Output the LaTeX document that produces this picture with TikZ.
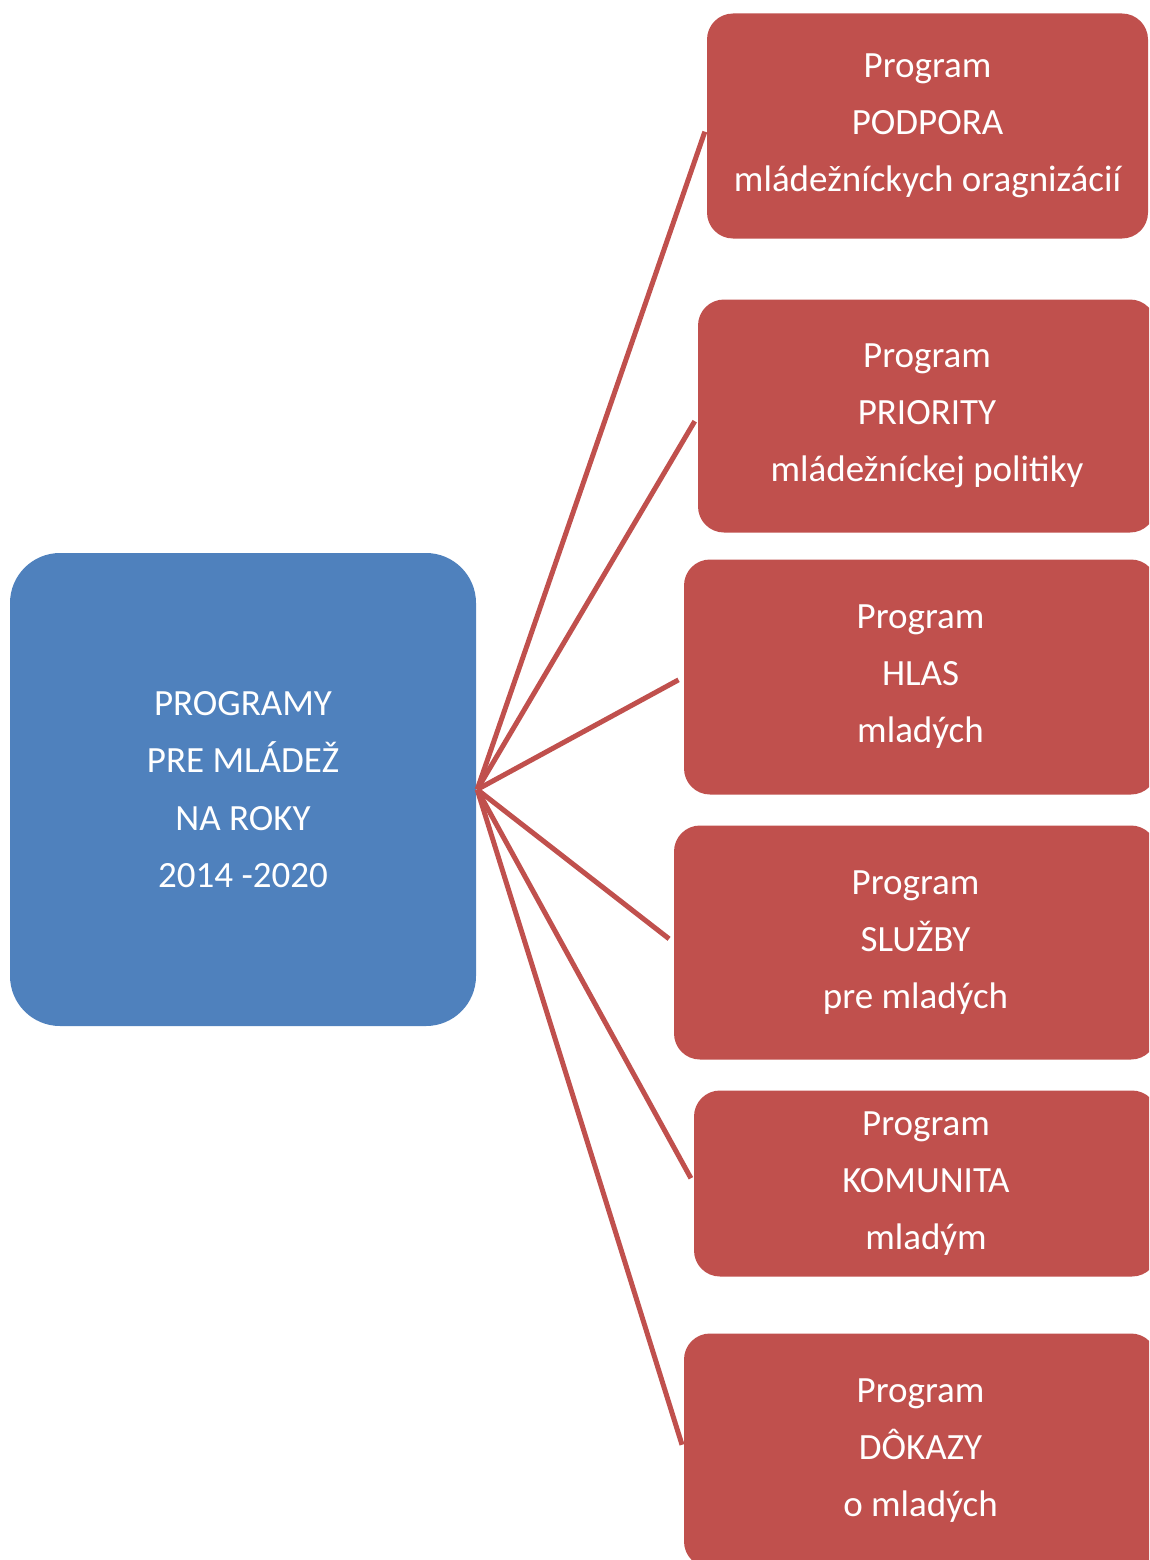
\documentclass[tikz,border=0pt]{standalone}
\usepackage{fontspec}
\setmainfont{Carlito}
\definecolor{hubblue}{HTML}{4F81BD}
\definecolor{progred}{HTML}{C0504D}
\begin{document}
\begin{tikzpicture}[x=1pt,y=-1pt,
  hubbox/.style={fill=hubblue, rounded corners=50pt, inner sep=0pt, text=white, align=center,
    font=\fontsize{37}{57.5}\selectfont},
  progbox/.style={fill=progred, rounded corners=26pt, inner sep=0pt, text=white, align=center,
    font=\fontsize{37}{57}\selectfont},
  link/.style={draw=progred, line width=5pt, shorten >=6pt}]
\useasboundingbox (0,0) rectangle (1149,1560);
\clip (0,0) rectangle (1149,1560);
\node[hubbox, minimum width=466pt, minimum height=473pt] (hub) at (243,789.5)
  {PROGRAMY\\PRE MLÁDEŽ\\NA ROKY\\2014 -2020};
\node[progbox, minimum width=441pt, minimum height=225pt] (p1) at (927.5,126)
  {Program\\PODPORA\\mládežníckych oragnizácií};
\node[progbox, minimum width=458pt, minimum height=233pt] (p2) at (927,416)
  {Program\\PRIORITY\\mládežníckej politiky};
\node[progbox, minimum width=473pt, minimum height=235pt] (p3) at (920.5,677)
  {Program\\HLAS\\mladých};
\node[progbox, minimum width=483pt, minimum height=234pt] (p4) at (915.5,942.5)
  {Program\\SLUŽBY\\pre mladých};
\node[progbox, minimum width=464pt, minimum height=186pt] (p5) at (926,1183.5)
  {Program\\KOMUNITA\\mladým};
\node[progbox, minimum width=473pt, minimum height=234pt] (p6) at (920.5,1450.5)
  {Program\\DÔKAZY\\o mladých};
\foreach \t in {p1,p2,p3,p4,p5,p6}
  \draw[link] ([xshift=1pt]hub.east) -- (\t.west);
\end{tikzpicture}
\end{document}
